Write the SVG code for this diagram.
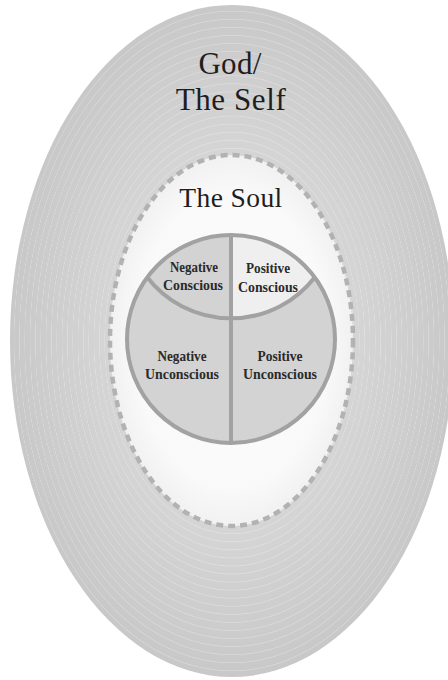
<svg xmlns="http://www.w3.org/2000/svg" width="448" height="680" viewBox="0 0 448 680">
  <defs>
    <radialGradient id="outerShade" cx="0.5" cy="0.5" r="0.5">
      <stop offset="0" stop-color="#dedede"/>
      <stop offset="0.6" stop-color="#d4d4d4"/>
      <stop offset="1" stop-color="#c8c8c8"/>
    </radialGradient>
    <radialGradient id="soulShade" cx="0.5" cy="0.5" r="0.5">
      <stop offset="0" stop-color="#fdfdfd"/>
      <stop offset="0.8" stop-color="#f9f9f9"/>
      <stop offset="1" stop-color="#f1f1f1"/>
    </radialGradient>
    <radialGradient id="rings" cx="0.5" cy="0.5" r="0.012" spreadMethod="repeat">
      <stop offset="0" stop-color="#ffffff" stop-opacity="0"/>
      <stop offset="0.8" stop-color="#ffffff" stop-opacity="0"/>
      <stop offset="0.9" stop-color="#ffffff" stop-opacity="0.28"/>
      <stop offset="1" stop-color="#ffffff" stop-opacity="0"/>
    </radialGradient>
  </defs>
  <style>
    .title { font-family: "Liberation Serif", "Times New Roman", serif; fill: #1e1e1e; text-anchor: middle; }
    .label { font-family: "Liberation Serif", "Times New Roman", serif; font-weight: bold; font-size: 15px; fill: #2a2a2a; text-anchor: middle; }
    .line { fill: none; stroke: #a2a2a2; stroke-width: 4; }
    .quad { fill: #d3d3d3; }
    .quad-light { fill: #efefef; }
  </style>
  <rect x="0" y="0" width="448" height="680" fill="#ffffff"/>

  <g id="god-self">
    <ellipse cx="232" cy="341" rx="222" ry="336" fill="url(#outerShade)"/>
    <ellipse cx="232" cy="341" rx="222" ry="336" fill="url(#rings)"/>
    <text class="title" x="230" y="74" font-size="31" letter-spacing="0.3">God/</text>
    <text class="title" x="231" y="110" font-size="31" letter-spacing="0.6">The Self</text>
  </g>

  <g id="soul">
    <ellipse cx="231.5" cy="340.5" rx="121.5" ry="185.5" fill="url(#soulShade)"/>
    <ellipse cx="231.5" cy="340.5" rx="121.5" ry="185.5" fill="url(#rings)" opacity="0.5"/>
    <ellipse cx="231.5" cy="340.5" rx="121.5" ry="185.5" fill="none" stroke="#b2b2b2" stroke-width="4.5" stroke-dasharray="7 5"/>
    <text class="title" x="231" y="207" font-size="27.5" letter-spacing="0.4">The Soul</text>
  </g>

  <g id="psyche">
    <g id="negative-conscious">
      <path class="quad" d="M231,235 A104,104 0 0 0 147,277 A106,106 0 0 0 231,318 Z"/>
      <text class="label" x="194" y="272" textLength="48" lengthAdjust="spacingAndGlyphs">Negative</text>
      <text class="label" x="193" y="290" textLength="60" lengthAdjust="spacingAndGlyphs">Conscious</text>
    </g>
    <g id="positive-conscious">
      <path class="quad-light" d="M231,235 A104,104 0 0 1 315,277 A106,106 0 0 1 231,318 Z"/>
      <text class="label" x="268" y="273" textLength="44" lengthAdjust="spacingAndGlyphs">Positive</text>
      <text class="label" x="268" y="292" textLength="60" lengthAdjust="spacingAndGlyphs">Conscious</text>
    </g>
    <g id="negative-unconscious">
      <path class="quad" d="M147,277 A106,106 0 0 0 231,318 L231,443 A104,104 0 0 1 147,277 Z"/>
      <text class="label" x="182" y="361" textLength="49" lengthAdjust="spacingAndGlyphs">Negative</text>
      <text class="label" x="182" y="379" textLength="74" lengthAdjust="spacingAndGlyphs">Unconscious</text>
    </g>
    <g id="positive-unconscious">
      <path class="quad" d="M315,277 A106,106 0 0 1 231,318 L231,443 A104,104 0 0 0 315,277 Z"/>
      <text class="label" x="280" y="361" textLength="45" lengthAdjust="spacingAndGlyphs">Positive</text>
      <text class="label" x="280" y="379" textLength="74" lengthAdjust="spacingAndGlyphs">Unconscious</text>
    </g>
    <g id="psyche-outline">
      <circle class="line" cx="231" cy="339" r="104"/>
      <path class="line" d="M231,235 L231,443"/>
      <path class="line" d="M147,277 A106,106 0 0 0 315,277"/>
    </g>
  </g>

  <g id="connectors"/>
</svg>
